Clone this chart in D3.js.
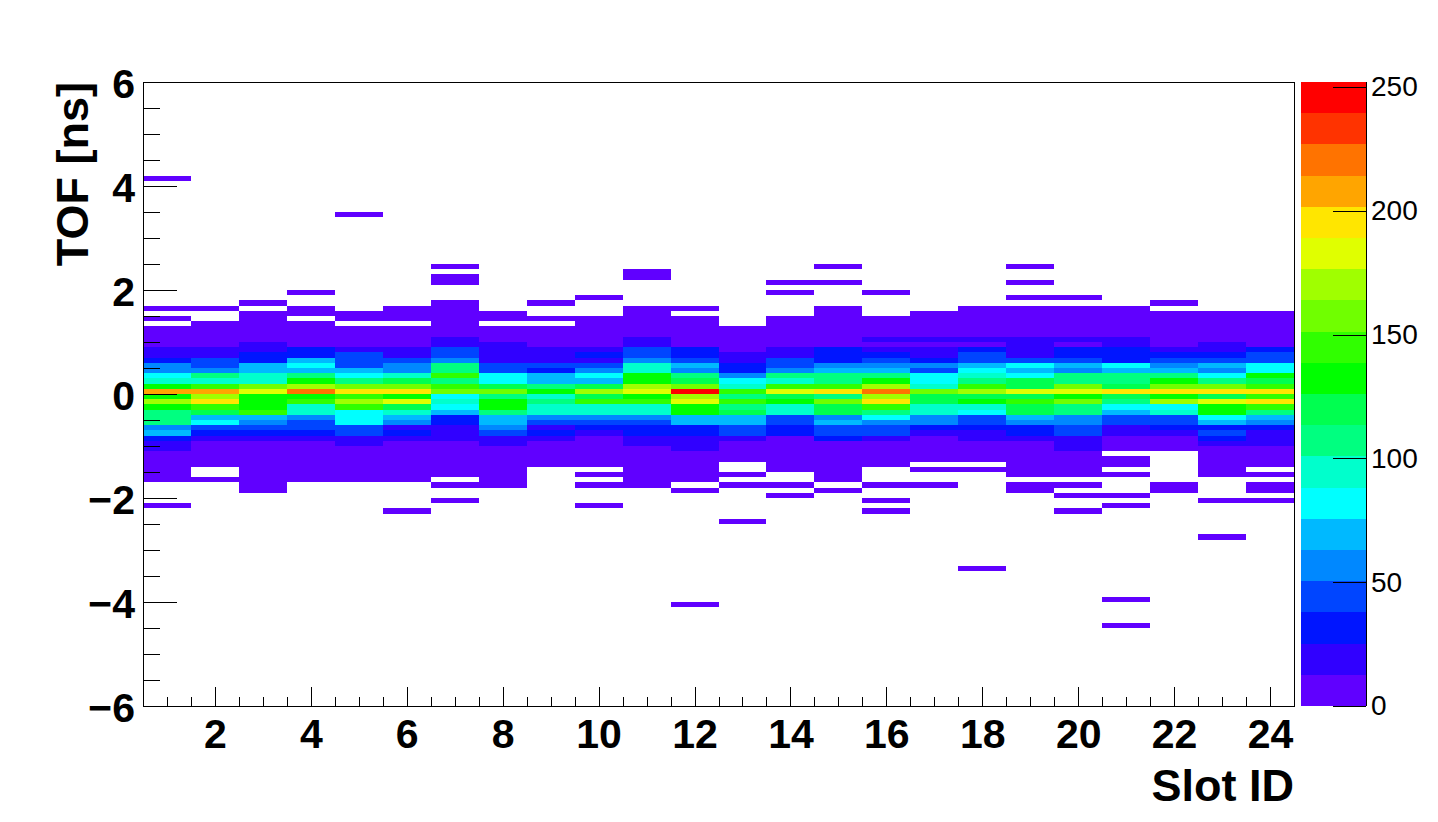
<!DOCTYPE html>
<html>
<head>
<meta charset="utf-8">
<script src="https://cdn.jsdelivr.net/npm/d3@7"></script>
<style>
  html, body { margin: 0; padding: 0; background: #fff; }
  svg { display: block; }
  text { font-family: "Liberation Sans", Arial, Helvetica, sans-serif; }
</style>
</head>
<body>
<svg id="chart" width="1438" height="822"></svg>
<script>
// ---------------- DATA ----------------
// Slot IDs (x bins)
const slots = [1,2,3,4,5,6,7,8,9,10,11,12,13,14,15,16,17,18,19,20,21,22,23,24];
// TOF bins of the core region: 41 bins of 0.1 ns, from [1.9,2.0] (first) down to [-2.1,-2.0] (last)
const coreTopEdges = [2.0,1.9,1.8,1.7,1.6,1.5,1.4,1.3,1.2,1.1,1.0,0.9,0.8,0.7,0.6,0.5,0.4,0.3,0.2,0.1,0.0,
                      -0.1,-0.2,-0.3,-0.4,-0.5,-0.6,-0.7,-0.8,-0.9,-1.0,-1.1,-1.2,-1.3,-1.4,-1.5,-1.6,-1.7,-1.8,-1.9,-2.0];
const tofBinWidth = 0.1;
// counts per slot, same order as coreTopEdges
const counts = [
  /* 1 */ [0,0,0,3,0,2,0,6,8,9, 11,19,22,31,57,60,82,95,133,208, 135,171,130,108,110,105,57,70,31,19, 20,10,9,8,6,4,3,0,0,0, 0],
  /* 2 */ [0,0,0,2,0,0,4,7,8,10, 12,20,24,40,46,58,105,97,147,210, 168,198,150,118,66,84,44,33,18,11, 9,7,5,3,0,0,2,0,0,0, 0],
  /* 3 */ [0,0,2,0,3,4,6,8,10,11, 16,20,28,33,68,72,93,96,160,185, 132,136,134,146,70,58,45,32,20,11, 9,8,6,5,4,3,3,2,1,0, 0],
  /* 4 */ [1,0,0,2,3,0,4,7,9,10, 12,28,33,68,80,66,106,130,170,224, 134,148,96,92,56,45,40,30,17,10, 8,7,6,5,4,3,2,0,0,0, 0],
  /* 5 */ [0,0,0,0,2,3,0,6,8,9, 11,21,40,42,46,70,80,106,158,198, 146,172,144,84,80,83,44,40,22,16, 10,8,6,5,4,3,2,0,0,0, 0],
  /* 6 */ [0,0,0,2,3,3,0,6,8,9, 12,18,22,42,56,60,94,118,158,200, 134,186,122,96,70,58,22,30,16,10, 8,7,6,4,3,2,1,0,0,0, 0],
  /* 7 */ [0,0,2,3,4,5,6,8,10,14, 20,42,46,56,108,110,146,106,148,160, 84,96,82,70,32,28,18,16,14,10, 8,7,5,4,3,2,0,2,0,0, 1],
  /* 8 */ [0,0,0,0,2,3,0,5,8,10, 14,18,20,22,40,44,80,84,122,160, 106,132,130,104,68,66,54,42,20,14, 9,8,6,5,4,3,3,2,0,0, 0],
  /* 9 */ [0,0,2,0,0,2,0,5,7,9, 11,16,20,18,40,30,66,68,104,134, 92,106,90,92,54,42,18,28,16,10, 8,6,4,2,0,0,0,0,0,0, 0],
  /*10 */ [0,1,0,0,0,3,5,7,8,10, 12,18,28,20,42,54,80,68,118,172, 122,148,94,96,56,44,30,19,11,9, 7,5,4,3,0,2,0,1,0,0, 0],
  /*11 */ [0,0,0,3,4,6,8,10,12,16, 20,40,44,56,94,96,132,134,168,184, 136,146,95,94,58,44,30,28,16,14, 10,8,6,5,4,3,2,2,0,0, 0],
  /*12 */ [0,0,0,2,0,4,6,8,10,11, 12,28,32,44,68,58,106,120,160,252, 170,184,134,130,70,68,30,28,18,16, 14,10,8,6,5,4,3,0,1,0, 0],
  /*13 */ [0,0,0,0,0,0,0,4,6,8, 10,11,16,20,30,34,56,84,96,146, 108,144,106,118,68,70,44,42,20,10, 8,6,4,0,0,2,0,1,0,0, 0],
  /*14 */ [1,0,0,0,0,3,5,7,9,10, 12,18,22,42,46,56,106,96,146,184, 120,134,94,96,42,44,30,28,12,10, 8,7,5,4,3,0,0,2,0,1, 0],
  /*15 */ [0,0,0,2,3,5,6,8,10,11, 12,26,30,32,56,70,108,110,146,198, 108,160,122,120,56,68,42,40,28,11, 9,8,6,5,4,3,2,0,1,0, 0],
  /*16 */ [1,0,0,0,0,3,6,8,10,14, 12,20,32,42,56,70,106,134,172,222, 170,196,146,108,82,58,44,42,18,11, 9,7,4,3,0,0,0,2,0,0, 1],
  /*17 */ [0,0,0,0,2,4,6,8,10,14, 12,18,22,30,56,42,80,84,94,160, 118,124,96,94,56,54,32,18,12,9, 7,5,3,0,2,0,0,1,0,0, 0],
  /*18 */ [0,0,0,2,4,5,7,8,10,14, 12,30,42,46,68,82,96,106,146,172, 122,134,94,84,44,42,30,20,16,10, 7,5,3,0,2,0,0,0,0,0, 0],
  /*19 */ [0,1,0,2,4,6,7,9,10,14, 16,20,22,42,84,70,82,120,118,184, 122,146,120,118,68,56,30,28,16,11, 9,8,6,5,4,3,0,2,2,0, 0],
  /*20 */ [0,1,0,2,4,6,7,9,10,14, 12,28,32,44,68,58,106,108,160,186, 134,158,106,108,58,56,44,42,20,18, 16,10,8,6,4,3,0,2,0,1, 0],
  /*21 */ [0,0,0,2,4,5,7,9,10,14, 16,28,32,30,82,70,106,108,120,196, 122,106,84,70,44,42,20,18,10,8, 5,0,3,2,0,1,0,0,0,1, 0],
  /*22 */ [0,0,1,0,3,5,7,8,10,11, 12,18,30,44,56,70,108,132,158,196, 134,170,84,94,44,42,30,18,10,8, 5,0,0,0,0,0,0,2,2,0, 0],
  /*23 */ [0,0,0,0,3,5,7,8,10,11, 14,20,32,42,68,58,84,108,160,198, 122,184,134,130,82,70,30,44,30,16, 10,8,6,5,4,3,0,0,0,0, 2],
  /*24 */ [0,0,0,0,3,5,7,8,10,11, 12,28,42,44,82,80,134,120,146,200, 146,196,148,108,70,58,32,18,16,14, 10,7,5,3,0,2,0,2,2,0, 1]
];
// isolated bins outside the core region
const outlierSlot  = [1,   1,    5,   6,    7,   7,   7,   10,   11,  11,  12,   13,   14,  15,  15,  16,   18,   19,  19,  20,   21,   21,   21,   23];
const outlierTofLo = [4.1, -2.2, 3.4, -2.3, 2.4, 2.2, 2.1, -2.2, 2.3, 2.2, -4.1, -2.5, 2.1, 2.4, 2.1, -2.3, -3.4, 2.4, 2.1, -2.3, -2.2, -4.0, -4.5, -2.8];
const outlierCount = [3,   2,    1,   2,    2,   3,   3,   2,    3,   2,   1,    1,    2,   1,   2,   1,    1,    2,   2,   1,    2,    1,    1,    1];

const xTickLabels = [2,4,6,8,10,12,14,16,18,20,22,24];
const yTickLabels = [-6,-4,-2,0,2,4,6];
const zTickLabels = [0,50,100,150,200,250];
const zMax = 252;
const paletteColors = ["#6000ff","#3000ff","#0015ff","#0045ff","#0088ff","#00b9ff","#00ffff","#00ffcc",
                       "#00ff80","#00ff50","#00ff00","#30ff00","#70ff00","#a0ff00","#e0ff00","#ffe600",
                       "#ffa500","#ff7300","#ff3300","#ff0000"];

// ---------------- LAYOUT ----------------
const frame = {left: 143, right: 1294, top: 82, bottom: 706};
const pal = {left: 1301, right: 1366};
const svg = d3.select("#chart");

const x = d3.scaleLinear().domain([0.5, 24.5]).range([frame.left, frame.right]);
const y = d3.scaleLinear().domain([-6, 6]).range([frame.bottom, frame.top]);
const color = d3.scaleQuantize().domain([0, zMax]).range(paletteColors);
const z = d3.scaleLinear().domain([0, zMax]).range([frame.bottom, frame.top]);

// ---------------- BINS ----------------
const cells = [];
slots.forEach((s, si) => {
  counts[si].forEach((c, i) => {
    if (c > 0) cells.push({slot: s, hi: coreTopEdges[i], lo: coreTopEdges[i] - tofBinWidth, c});
  });
});
outlierSlot.forEach((s, i) => {
  cells.push({slot: s, lo: outlierTofLo[i], hi: outlierTofLo[i] + tofBinWidth, c: outlierCount[i]});
});

svg.append("g").attr("shape-rendering", "crispEdges")
  .selectAll("rect").data(cells).join("rect")
  .attr("x", d => Math.round(x(d.slot - 0.5)))
  .attr("width", d => Math.round(x(d.slot + 0.5)) - Math.round(x(d.slot - 0.5)))
  .attr("y", d => Math.round(y(d.hi)))
  .attr("height", d => Math.round(y(d.lo)) - Math.round(y(d.hi)))
  .attr("fill", d => color(d.c));

// ---------------- AXES ----------------
const fmt = d => (d < 0 ? "\u2212" + Math.abs(d) : String(d));
const labelFont = 41;

// x minor ticks (every 0.5)
const xMinor = d3.range(0.5, 24.51, 0.5).filter(v => v % 2 !== 0);
svg.append("g").attr("transform", `translate(0,${frame.bottom})`)
  .call(d3.axisBottom(x).tickValues(xMinor).tickSize(-9.4).tickSizeOuter(0).tickFormat(""))
  .call(g => g.select(".domain").remove());
// x major
svg.append("g").attr("transform", `translate(0,${frame.bottom})`)
  .call(d3.axisBottom(x).tickValues(xTickLabels).tickSize(-18.7).tickSizeOuter(0).tickPadding(13).tickFormat(fmt))
  .call(g => g.select(".domain").remove())
  .call(g => g.selectAll("text").attr("font-size", labelFont).attr("font-weight", "bold")
       .attr("fill", "#000").attr("font-family", "Liberation Sans, Arial, sans-serif"));

// y minor ticks
const yMinor = d3.range(-6, 6.01, 0.5).filter(v => v % 2 !== 0);
svg.append("g").attr("transform", `translate(${frame.left},0)`)
  .call(d3.axisLeft(y).tickValues(yMinor).tickSize(-17).tickSizeOuter(0).tickFormat(""))
  .call(g => g.select(".domain").remove());
svg.append("g").attr("transform", `translate(${frame.left},0)`)
  .call(d3.axisLeft(y).tickValues(yTickLabels).tickSize(-34).tickSizeOuter(0).tickPadding(8).tickFormat(fmt))
  .call(g => g.select(".domain").remove())
  .call(g => g.selectAll("text").attr("font-size", labelFont).attr("font-weight", "bold")
       .attr("dy", "0.37em").attr("fill", "#000").attr("font-family", "Liberation Sans, Arial, sans-serif"));

svg.selectAll(".tick line").attr("stroke", "#000").attr("stroke-width", 1).attr("shape-rendering", "crispEdges");

// frame
svg.append("rect").attr("x", frame.left + 0.5).attr("y", frame.top + 0.5)
  .attr("width", frame.right - frame.left).attr("height", frame.bottom - frame.top)
  .attr("fill", "none").attr("stroke", "#000").attr("stroke-width", 1);

// axis titles
svg.append("text").attr("x", frame.right).attr("y", 801).attr("text-anchor", "end")
  .attr("font-size", 45).attr("font-weight", "bold").text("Slot ID");
svg.append("text").attr("transform", `translate(88,${frame.top}) rotate(-90)`).attr("text-anchor", "end")
  .attr("font-size", 45).attr("font-weight", "bold").text("TOF [ns]");

// ---------------- PALETTE ----------------
const levelEdges = d3.range(paletteColors.length).map(i => [i * zMax / paletteColors.length, (i + 1) * zMax / paletteColors.length]);
svg.append("g").attr("shape-rendering", "crispEdges")
  .selectAll("rect").data(levelEdges).join("rect")
  .attr("x", pal.left).attr("width", pal.right - pal.left)
  .attr("y", d => Math.round(z(d[1]))).attr("height", d => Math.round(z(d[0])) - Math.round(z(d[1])))
  .attr("fill", (d, i) => paletteColors[i]);

svg.append("g").attr("transform", `translate(${pal.right},0)`)
  .call(d3.axisRight(z).tickValues(zTickLabels).tickSize(-33).tickSizeOuter(0).tickPadding(5).tickFormat(d3.format("d")))
  .call(g => g.select(".domain").attr("stroke", "#000").attr("d", `M0.5,${frame.top}V${frame.bottom}`))
  .call(g => g.selectAll("text").attr("font-size", 28).attr("fill", "#000")
       .attr("font-family", "Liberation Sans, Arial, sans-serif"))
  .call(g => g.selectAll("line").attr("stroke", "#000").attr("shape-rendering", "crispEdges"));
</script>
</body>
</html>
